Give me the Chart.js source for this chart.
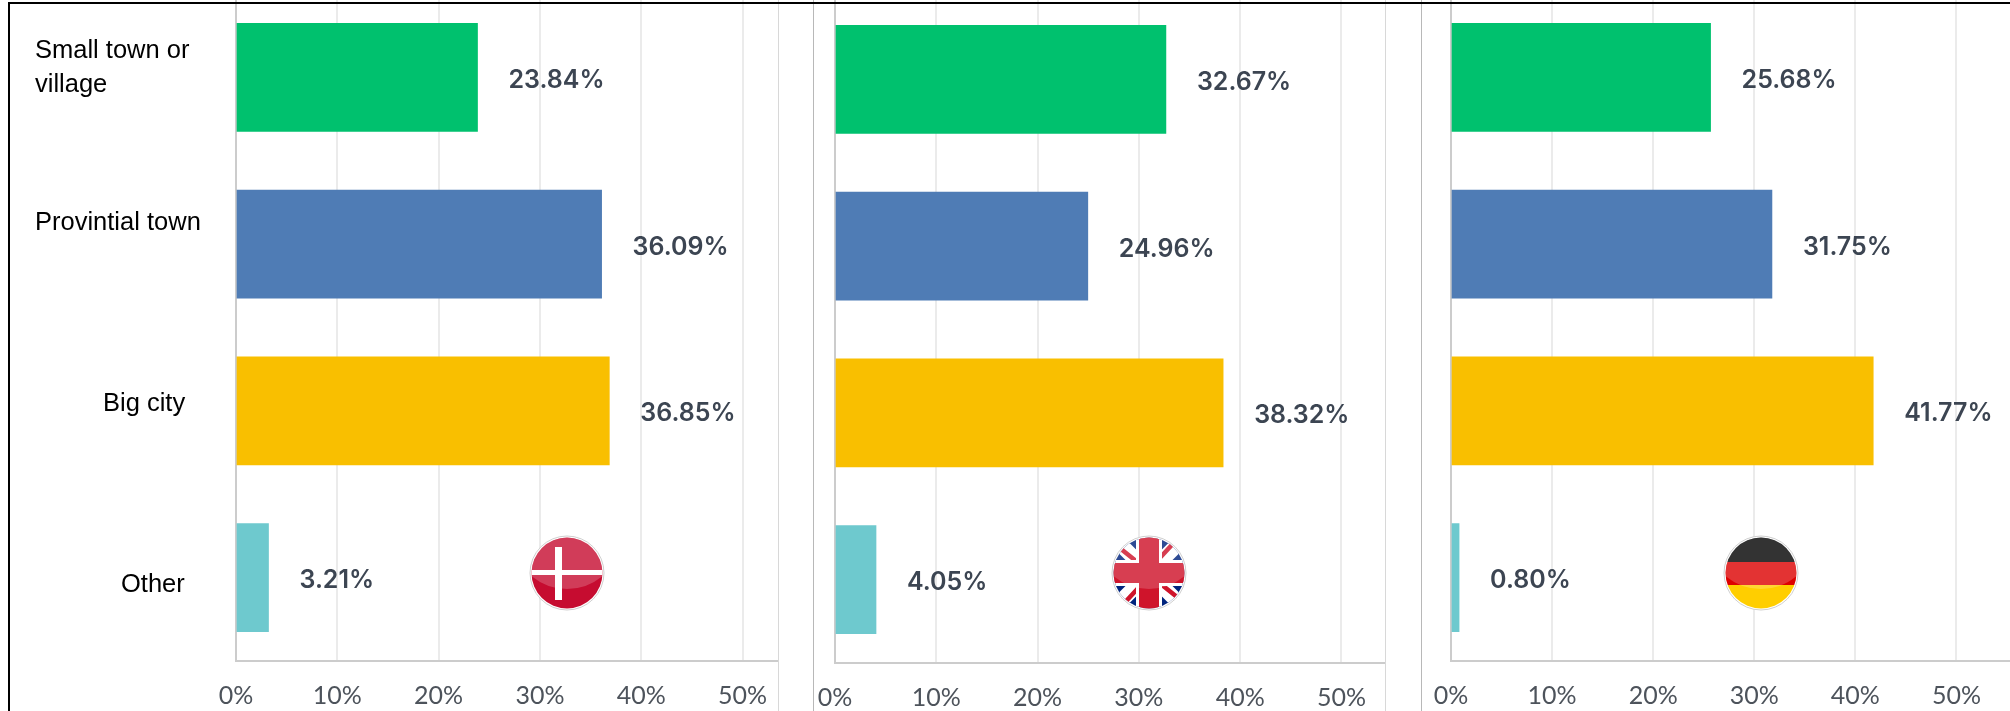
<!DOCTYPE html>
<html>
<head>
<meta charset="utf-8">
<script src="https://cdn.jsdelivr.net/npm/chart.js@4"></script>
<style>
    html, body { margin: 0; padding: 0; background: #fff; }
    #page { position: relative; width: 2010px; height: 711px; overflow: hidden; background: #fff; }
    .panel { position: absolute; }
    .rule { position: absolute; top: 0; bottom: 0; width: 1px; }
    .rule.light { background: #d8d8d8; }
    .rule.dark { background: #b8b8b8; }
    #frame { position: absolute; left: 8px; top: 2px; right: -4px; bottom: -4px; border: 2px solid #000; }
    .flag { position: absolute; width: 76px; height: 76px; }
</style>
</head>
<body>
<div id="page">
    <div class="rule light" style="left:778px"></div>
    <div class="rule dark" style="left:813px"></div>
    <div class="rule light" style="left:1385px"></div>
    <div class="rule dark" style="left:1421px"></div>

    <div class="panel" style="left:0;top:-6px;width:778px;height:717px"><canvas id="chartDenmark"></canvas></div>
    <div class="panel" style="left:815px;top:-4px;width:570px;height:717px"><canvas id="chartUk"></canvas></div>
    <div class="panel" style="left:1422px;top:-6px;width:588px;height:717px"><canvas id="chartGermany"></canvas></div>

    <svg class="flag" style="left:529px;top:535px" viewBox="0 0 76 76">
        <defs><clipPath id="clipDk"><circle cx="38" cy="38" r="35.5"/></clipPath></defs>
        <circle cx="38" cy="38" r="37" fill="#fff" stroke="#cfcfcf"/>
        <g clip-path="url(#clipDk)">
            <rect width="76" height="76" fill="#c60c30"/>
            <ellipse cx="38" cy="14" rx="48" ry="40" fill="#fff" opacity="0.2"/>
            <rect x="26" y="12" width="7" height="53" fill="#fff"/>
            <rect x="0" y="35" width="76" height="5" fill="#fff"/>
        </g>
    </svg>

    <svg class="flag" style="left:1111px;top:535px" viewBox="0 0 76 76">
        <defs><clipPath id="clipUk"><circle cx="38" cy="38" r="35.5"/></clipPath></defs>
        <circle cx="38" cy="38" r="37" fill="#fff" stroke="#cfcfcf"/>
        <g clip-path="url(#clipUk)">
            <rect width="76" height="76" fill="#00247d"/>
            <path d="M0 0L76 76M76 0L0 76" stroke="#fff" stroke-width="15"/>
            <path d="M0 6L30 30M76 70L46 46M70 0L46 26M6 76L30 50" stroke="#cf142b" stroke-width="4.5"/>
            <rect x="25" y="0" width="26" height="76" fill="#fff"/>
            <rect x="0" y="25" width="76" height="26" fill="#fff"/>
            <rect x="28" y="0" width="20" height="76" fill="#cf142b"/>
            <rect x="0" y="28" width="76" height="20" fill="#cf142b"/>
            <ellipse cx="38" cy="14" rx="48" ry="40" fill="#fff" opacity="0.18"/>
        </g>
    </svg>

    <svg class="flag" style="left:1723px;top:535px" viewBox="0 0 76 76">
        <defs><clipPath id="clipDe"><circle cx="38" cy="38" r="35.5"/></clipPath></defs>
        <circle cx="38" cy="38" r="37" fill="#fff" stroke="#cfcfcf"/>
        <g clip-path="url(#clipDe)">
            <rect width="76" height="27" fill="#000"/>
            <rect y="27" width="76" height="23" fill="#dd0000"/>
            <rect y="50" width="76" height="26" fill="#ffce00"/>
            <ellipse cx="38" cy="14" rx="48" ry="40" fill="#fff" opacity="0.2"/>
        </g>
    </svg>

    <div id="frame"></div>
</div>

<script>
const categories = ['Small town or village', 'Provintial town', 'Big city', 'Other'];
const denmarkValues = [23.84, 36.09, 36.85, 3.21];
const ukValues = [32.67, 24.96, 38.32, 4.05];
const germanyValues = [25.68, 31.75, 41.77, 0.80];
const axisTicks = [0, 10, 20, 30, 40, 50];
const barColors = ['#00c16e', '#4f7cb5', '#f9bf00', '#6ec9ce'];

// hand placed row captions on the first panel: lines, left edge, shift from the bar centre
const captionLines = [['Small town or', 'village'], ['Provintial town'], ['Big city'], ['Other']];
const captionLeft = [35, 35, 103, 121];
const captionShift = [-9, -21, -7, 7];

const valueLabels = {
    id: 'valueLabels',
    afterDatasetsDraw(chart) {
        const ctx = chart.ctx;
        const bars = chart.getDatasetMeta(0).data;
        ctx.save();
        ctx.font = '600 25px Inter';
        ctx.fillStyle = '#3c4552';
        ctx.textBaseline = 'middle';
        bars.forEach((bar, i) => {
            const value = chart.data.datasets[0].data[i];
            ctx.fillText(value.toFixed(2) + '%', bar.x + 31, bar.y + 3);
        });
        ctx.restore();
    }
};

const rowCaptions = {
    id: 'rowCaptions',
    afterDraw(chart) {
        const ctx = chart.ctx;
        const yScale = chart.scales.y;
        ctx.save();
        ctx.font = '25.5px "Liberation Sans"';
        ctx.fillStyle = '#000';
        ctx.textBaseline = 'middle';
        captionLines.forEach((lines, i) => {
            const mid = yScale.getPixelForValue(i) + captionShift[i];
            lines.forEach((line, n) => {
                ctx.fillText(line, captionLeft[i], mid + (n - (lines.length - 1) / 2) * 34);
            });
        });
        ctx.restore();
    }
};

function drawPanel(canvasId, values, plotLeft, xMax, withCaptions) {
    new Chart(document.getElementById(canvasId), {
        type: 'bar',
        data: {
            labels: categories,
            datasets: [{
                data: values,
                backgroundColor: barColors,
                barThickness: 108
            }]
        },
        options: {
            indexAxis: 'y',
            responsive: true,
            maintainAspectRatio: false,
            animation: false,
            layout: { padding: { left: plotLeft, right: 0, top: 0, bottom: 0 } },
            plugins: { legend: { display: false }, tooltip: { enabled: false } },
            scales: {
                x: {
                    min: 0,
                    max: xMax,
                    afterBuildTicks(axis) {
                        axis.ticks = axisTicks.map(v => ({ value: v }));
                    },
                    afterFit(axis) {
                        // keep the plot edges fixed, labels may overhang them
                        axis.height = 50;
                        axis.paddingLeft = 0;
                        axis.paddingRight = 0;
                    },
                    grid: { color: '#ebebeb', lineWidth: 2, drawTicks: false },
                    border: { color: '#cccccc', width: 2 },
                    ticks: {
                        autoSkip: false,
                        maxRotation: 0,
                        padding: 20,
                        color: '#4d535b',
                        font: { family: 'Lato', size: 25 },
                        callback: v => v + '%'
                    }
                },
                y: {
                    afterFit(axis) {
                        axis.width = 0;
                    },
                    grid: { display: false },
                    border: { color: '#cccccc', width: 2 },
                    ticks: { display: false }
                }
            }
        },
        plugins: withCaptions ? [valueLabels, rowCaptions] : [valueLabels]
    });
}

document.addEventListener('DOMContentLoaded', () => {
    drawPanel('chartDenmark', denmarkValues, 236, 53.5, true);
    drawPanel('chartUk', ukValues, 20, 54.3, false);
    drawPanel('chartGermany', germanyValues, 29, 55.3, false);
});
</script>
</body>
</html>
